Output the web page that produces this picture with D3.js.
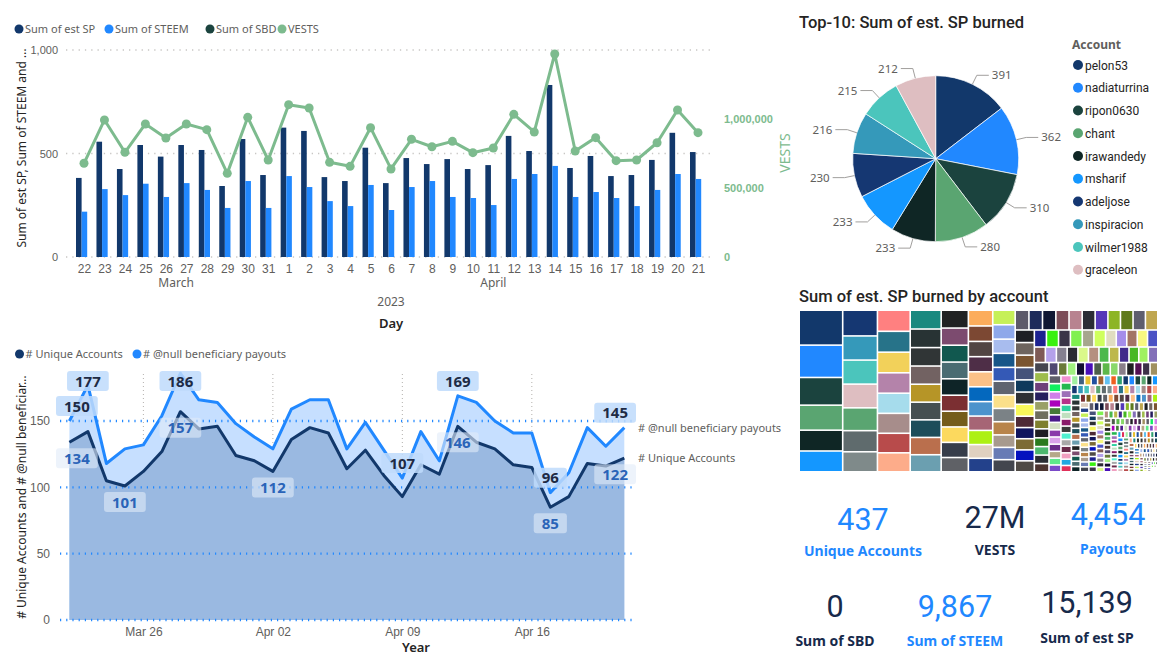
<!DOCTYPE html>
<html><head><meta charset="utf-8">
<script src="https://cdn.jsdelivr.net/npm/d3@7"></script>
<style>
body{margin:0;background:#fff;}
svg{display:block;font-family:"Segoe UI","Noto Sans",sans-serif;}
.din{font-family:Roboto,"Noto Sans",sans-serif;}
</style></head><body>
<svg id="c" width="1170" height="670"></svg>
<script>
// ---------------- DATA ----------------
const days = ["2023-03-22","2023-03-23","2023-03-24","2023-03-25","2023-03-26","2023-03-27","2023-03-28","2023-03-29","2023-03-30","2023-03-31",
"2023-04-01","2023-04-02","2023-04-03","2023-04-04","2023-04-05","2023-04-06","2023-04-07","2023-04-08","2023-04-09","2023-04-10",
"2023-04-11","2023-04-12","2023-04-13","2023-04-14","2023-04-15","2023-04-16","2023-04-17","2023-04-18","2023-04-19","2023-04-20","2023-04-21"];
const monthNames = ["March","April"];
const estSP = [382,557,425,541,485,541,517,343,570,396,625,609,386,367,528,357,478,449,473,425,444,585,512,831,430,488,391,396,469,600,507];
const steem = [219,328,299,354,290,357,324,237,367,237,391,338,270,246,348,227,338,367,290,285,251,377,401,440,290,314,285,246,324,401,377];
const sbd = [0,0,0,0,0,0,0,0,0,0,0,0,0,0,0,0,0,0,0,0,0,0,0,0,0,0,0,0,0,0,0];
const vests = [679000,993000,759000,964000,862000,964000,923000,606000,1012000,703000,1104000,1080000,686000,657000,937000,638000,853000,799000,838000,756000,790000,1034000,906000,1471000,768000,865000,698000,703000,828000,1065000,901000];
const barSeries = ["Sum of est SP","Sum of STEEM","Sum of SBD","VESTS"];
const leftTicks = [0,500,1000];
const rightTicks = [0,500000,1000000];

const pieAccounts = ["pelon53","nadiaturrina","ripon0630","chant","irawandedy","msharif","adeljose","inspiracion","wilmer1988","graceleon"];
const pieValues = [391,362,310,280,233,233,230,216,215,212];

// remaining accounts' est. SP (treemap), descending
const tmMid = [204,189,179,178,176,174,172,170,168,165,160,150,148,147,145,143,141,140,138,136,
125,120,118,117,115,112,110,108,106,100,99,97,96,95,94,93,91,90,89,
86,85,84,83,82,81,80,79,78,77,76,72,71,70,70,69,68,67,67,66,65];
const tmSmall = [64,64,63,63,62,62,61,61,60,60,59,56,55,55,54,54,53,53,52,52,51,51,
47,46,46,45,45,44,44,43,43,42,42,41,40,39,39,38,38,37,37,36,36,35,35,34,34,33,
32,32,31,31,30,30,29,29,28,28,27,27,27,26,26,26,25,25,24,24,23,23,23,22,22,22,21,21,21,20,20,20,19,19,19,19,
18,18,18,18,17,17,17,17,16,16,16,16,16,15,15,15,15,15,14,14,14,14,14,14,13];
const tmTail = [13,13,13,13,13,13,13,13,13,13,13,13,13,13,13,13,13,13,13,13,
12,12,12,12,12,12,12,12,12,12,12,12,12,12,12,12,12,12,12,12,
11,11,11,11,11,11,11,11,11,11,11,11,11,11,11,11,11,11,11,11,
10,10,10,10,10,10,10,10,10,10,10,10,10,10,10,10,10,10,10,10,
9,9,9,9,9,9,9,9,9,9,9,9,9,9,9,9,9,9,9,9,
8,8,8,8,8,8,8,8,8,8,8,8,8,8,8,8,8,8,8,8,
7,7,7,7,7,7,7,7,7,7,7,7,7,7,7,7,7,7,7,7,
6,6,6,6,6,6,6,6,6,6,6,6,6,6,6,6,6,6,6,6,6,6,6,6,6,
5,5,5,5,5,5,5,5,5,5,5,5,5,5,5,5,5,5,5,5,5,5,5,5,5,
4,4,4,4,4,4,4,4,4,4,4,4,4,4,4,4,4,4,4,4,4,4,4,4,4,
3,3,3,3,3,3,3,3,3,3,3,3,3,3,3,3,3,3,3,3,
2,2,2,2,2,2,2,2,2,2,2,2,2,2,2,
1,1,1,1,1,1,1,1];

const accounts = [134,142,105,101,112,127,157,144,146,124,120,112,136,145,141,114,128,109,93,117,110,146,134,129,117,115,85,93,118,116,122];
const payouts = [150,177,118,129,132,154,186,166,164,148,138,129,159,166,166,129,149,128,107,142,120,169,164,150,141,141,96,111,145,131,145];
const areaSeries = ["# Unique Accounts","# @null beneficiary payouts"];
const areaTicksY = [0,50,100,150];
const areaTicksX = ["2023-03-26","2023-04-02","2023-04-09","2023-04-16"];
const labelIdxPayouts = [0,1,6,18,21,26,30];
const labelIdxAccounts = [0,3,6,11,21,26,30];

const kpiValues = ["437","27M","4,454","0","9,867","15,139"];
const kpiLabels = ["Unique Accounts","VESTS","Payouts","Sum of SBD","Sum of STEEM","Sum of est SP"];

// ---------------- STYLE ----------------
const C_SP = "#12386B", C_ST = "#2188FF", C_SBD = "#1B433E", C_V = "#7DBB8E";
const GRAY = "#605E5C", DARK = "#252423";
const pieColors = ["#12386B","#2188FF","#1B433E","#5AA571","#0F2625","#1497FF","#153772","#3599BA","#4BC5BC","#DEBEC1"];
const tmColors = pieColors.concat(["#5AA571","#5F6B6D","#7F8A8A",
"#FF8080","#277389","#F2D15A","#B483AA","#A6DCEC","#A78D8B","#B84B4B","#FDAC8A",
"#19897F","#283334","#303536","#726262","#B69527","#464F51","#1D4D5A","#BA6F4D","#6B9FB0",
"#202223","#7C4B6F","#11584F","#4A6C72","#0E2427","#7B2F32","#755C1B","#FCD95E","#363D4A",
"#5F6166","#FCAC5B","#7C4833","#524543","#4E2E47","#FBC087","#0468BE","#4C93CC","#A66575","#ADF014",
"#DFD0C0","#23418B","#C6F058","#8EA8EA","#A8BCEE","#175688","#3459B6","#5F6470","#FBE08A","#7B8286","#B8844B",
"#A79A8E","#687BB5","#43464E","#5D5A6A","#1D2B5A","#0F1733","#7C4C58","#B88390","#2A2C35","#5538B8",
"#8DB526","#5F7A1C","#5E5E6E","#BFA64F","#1E1F24","#6E645E","#7B5530","#45527A","#0F3A5C","#2E3034","#F8F85A",
"#4E2A36","#10155E","#7C6B35","#0512BE","#4F4A45","#1C2190","#39F010","#3A3548","#80F050","#A6A68E","#CFFF5E",
"#E0DDC0","#A58DEA","#A37565","#F8F880","#4B52C4","#7E5A55","#B4A1EA","#858090","#2B2A33","#DAF88A","#B59080",
"#4CB84C","#BDB84B","#3F2A8A","#48B824","#A0F060","#8370B8","#45454F","#9EBC4C","#6E3F7A","#261E5E","#9AA066",
"#6E6E5E","#7F7F2E","#1E1E23","#2A7A1E","#4CB86E","#2B2D33","#4D3530","#4F4872","#6A7A38","#A0F080","#120E30",
"#4A0FB8","#4D5F4A","#5DB84A","#8AD86A","#8A7F8A","#1E1E22","#520F52","#3C3048","#A09060","#5E5E6A","#10F060",
"#D080E8","#AA00BB","#457A38","#4A1A8A","#D5E0C5","#8A3AAA","#DAA0EA","#6B2A8A","#B5A888","#5EE88A","#7A4AC8",
"#F090D0","#24B850","#9E70B8","#B8308A","#30D0A0","#C0E0C0","#8A1A6A","#3A3A3A","#50F0D0","#A8A8A8","#6A2A4A",
"#F0A0C0","#20A8E0","#E0305A","#A0F0A0","#406080","#E8C030","#2050A0","#A06030","#60C0F0","#F06020","#30A070"]);

const svg = d3.select("#c");
const parse = d3.timeParse("%Y-%m-%d");

// ================= BAR + LINE CHART =================
const xB = d3.scalePoint().domain(days).range([84,698]);
const xIn = d3.scaleBand().domain(["sp","steem"]).range([-8,3.2]);
const yL = d3.scaleLinear().domain([0,1000]).range([257,50]);
const yR = d3.scaleLinear().domain([0,1500000]).range([257,50]);

// legend
const lg = svg.append("g").attr("font-size",11).attr("fill",GRAY);
const legX = [19,109,210,282], legC = [C_SP,C_ST,C_SBD,C_V];
barSeries.forEach((s,i)=>{
  lg.append("circle").attr("cx",legX[i]).attr("cy",29).attr("r",4.5).attr("fill",legC[i]);
  lg.append("text").attr("x",legX[i]+6).attr("y",33).text(s);
});

// grid
svg.append("g").selectAll("line").data(leftTicks).join("line")
  .attr("x1",66).attr("x2",712).attr("y1",d=>yL(d)).attr("y2",d=>yL(d))
  .attr("stroke","#C8C6C4").attr("stroke-width",1.3).attr("stroke-dasharray","1.3,5");

// bars
const barData = days.map((d,i)=>({d,sp:estSP[i],st:steem[i],sb:sbd[i],v:vests[i]}));
svg.append("g").selectAll("rect").data(barData).join("rect")
  .attr("x",d=>xB(d.d)+xIn("sp")).attr("width",xIn.bandwidth())
  .attr("y",d=>yL(d.sp)).attr("height",d=>yL(0)-yL(d.sp)).attr("fill",C_SP);
svg.append("g").selectAll("rect").data(barData).join("rect")
  .attr("x",d=>xB(d.d)+xIn("steem")).attr("width",xIn.bandwidth())
  .attr("y",d=>yL(d.st)).attr("height",d=>yL(0)-yL(d.st)).attr("fill",C_ST);

// vests line
svg.append("path").datum(barData)
  .attr("d",d3.line().x(d=>xB(d.d)).y(d=>yR(d.v)))
  .attr("fill","none").attr("stroke",C_V).attr("stroke-width",3).attr("stroke-linejoin","round");
svg.append("g").selectAll("circle").data(barData).join("circle")
  .attr("cx",d=>xB(d.d)).attr("cy",d=>yR(d.v)).attr("r",4.5).attr("fill",C_V);

// axes
function styleAxis(g){ g.select(".domain").remove(); g.selectAll(".tick line").remove(); }
svg.append("g").attr("transform","translate(62,0)")
  .call(d3.axisLeft(yL).tickValues(leftTicks).tickFormat(d3.format(",")).tickSize(0).tickPadding(4))
  .call(styleAxis).call(g=>g.selectAll("text").attr("fill",GRAY).attr("font-size",11).attr("font-family",null));
svg.append("g").attr("transform","translate(720,0)")
  .call(d3.axisRight(yR).tickValues(rightTicks).tickFormat(d3.format(",")).tickSize(0).tickPadding(4))
  .call(styleAxis).call(g=>g.selectAll("text").attr("fill",C_V).attr("font-size",11).attr("font-weight",600).attr("font-family",null));
svg.append("g").attr("transform","translate(0,257)")
  .call(d3.axisBottom(xB).tickFormat(d=>+d.slice(8)).tickSize(0).tickPadding(7))
  .call(styleAxis).call(g=>g.selectAll("text").attr("fill",GRAY).attr("font-size",12).attr("font-family",null));
// month labels
monthNames.forEach((m,mi)=>{
  const ds = days.filter(d=>+d.slice(5,7)===mi+3);
  const cx = (xB(ds[0])+xB(ds[ds.length-1]))/2;
  svg.append("text").attr("x",cx).attr("y",287).attr("text-anchor","middle").attr("font-size",12).attr("fill",GRAY).text(m);
});
svg.append("text").attr("x",(xB(days[0])+xB(days[30]))/2).attr("y",306).attr("text-anchor","middle").attr("font-size",12).attr("fill",GRAY).text("2023");
svg.append("text").attr("x",(xB(days[0])+xB(days[30]))/2).attr("y",328).attr("text-anchor","middle").attr("font-size",13).attr("font-weight",600).attr("fill",DARK).text("Day");
svg.append("text").attr("transform","translate(26,148) rotate(-90)").attr("text-anchor","middle").attr("font-size",12).attr("fill",DARK).text("Sum of est SP, Sum of STEEM and ...");
svg.append("text").attr("transform","translate(790,153) rotate(-90)").attr("text-anchor","middle").attr("font-size",14).attr("fill",C_V).text("VESTS");

// ================= PIE =================
const pcx = 935.7, pcy = 158.7, pr = 83;
svg.append("text").attr("class","din").attr("x",799).attr("y",28).attr("font-size",16.5).attr("font-weight",500).attr("fill",DARK).text("Top-10: Sum of est. SP burned");
const pie = d3.pie().sort(null).value(d=>d.v);
const pieData = pie(pieAccounts.map((a,i)=>({a,v:pieValues[i],c:pieColors[i]})));
const arc = d3.arc().innerRadius(0).outerRadius(pr);
const pg = svg.append("g").attr("transform",`translate(${pcx},${pcy})`);
pg.selectAll("path").data(pieData).join("path").attr("d",arc).attr("fill",d=>d.data.c).attr("stroke","#fff").attr("stroke-width",0.7);
pieData.forEach(d=>{
  const a = (d.startAngle+d.endAngle)/2;
  const sx = Math.sin(a), sy = -Math.cos(a);
  const p1 = [pr*sx, pr*sy], p2 = [(pr+10)*sx,(pr+10)*sy];
  const dir = sx>=0?1:-1;
  const p3 = [p2[0]+12*dir, p2[1]];
  pg.append("polyline").attr("points",[p1,p2,p3].map(p=>p.join(",")).join(" "))
    .attr("fill","none").attr("stroke","#A19F9D").attr("stroke-width",1);
  pg.append("text").attr("x",p3[0]+3*dir).attr("y",p3[1]+4).attr("text-anchor",dir>0?"start":"end")
    .attr("font-size",11.5).attr("fill",GRAY).text(d.data.v);
});
// legend
svg.append("text").attr("x",1072).attr("y",49).attr("font-size",12).attr("font-weight",700).attr("fill",GRAY).text("Account");
pieAccounts.forEach((a,i)=>{
  const y = 65 + i*22.75;
  svg.append("circle").attr("cx",1078).attr("cy",y).attr("r",5).attr("fill",pieColors[i]);
  svg.append("text").attr("class","din").attr("x",1085).attr("y",y+4.5).attr("font-size",12).attr("fill",DARK).text(a);
});

// ================= TREEMAP =================
svg.append("text").attr("class","din").attr("x",799).attr("y",302).attr("font-size",16.5).attr("font-weight",500).attr("fill",DARK).text("Sum of est. SP burned by account");
const tmVals = pieValues.concat(tmMid, tmSmall, tmTail);
const root = d3.hierarchy({children: tmVals.map((v,i)=>({v,i}))}).sum(d=>d.v||0).sort((a,b)=>b.value-a.value || a.data.i-b.data.i);
d3.treemap().size([357,160]).paddingInner(1.6).tile(d3.treemapSquarify.ratio(1.6))(root);
svg.append("g").attr("transform","translate(800,311)").selectAll("rect").data(root.leaves()).join("rect")
  .attr("x",d=>d.x0).attr("y",d=>d.y0).attr("width",d=>Math.max(0,d.x1-d.x0)).attr("height",d=>Math.max(0,d.y1-d.y0))
  .attr("fill",d=>tmColors[d.data.i % tmColors.length]);

// ================= AREA CHART =================
const xA = d3.scaleTime().domain([parse(days[0]),parse(days[30])]).range([69.4,624.3]);
const yA = d3.scaleLinear().domain([0,150]).range([620,421]);
const al = svg.append("g").attr("font-size",11).attr("fill",GRAY);
[[19.5,C_SP],[137,C_ST]].forEach((p,i)=>{
  al.append("circle").attr("cx",p[0]).attr("cy",354).attr("r",4.5).attr("fill",p[1]);
  al.append("text").attr("x",p[0]+6).attr("y",358).text(areaSeries[i]);
});
const aData = days.map((d,i)=>({t:parse(d),a:accounts[i],p:payouts[i]}));
// vertical grid
svg.append("g").selectAll("line").data(areaTicksX).join("line")
  .attr("x1",d=>xA(parse(d))).attr("x2",d=>xA(parse(d))).attr("y1",374).attr("y2",620)
  .attr("stroke","#B3B0AD").attr("stroke-dasharray","1,3");
svg.append("path").datum(aData).attr("d",d3.area().x(d=>xA(d.t)).y0(yA(0)).y1(d=>yA(d.p))).attr("fill","#C6DFFF");
svg.append("path").datum(aData).attr("d",d3.area().x(d=>xA(d.t)).y0(yA(0)).y1(d=>yA(d.a))).attr("fill","#9AB9E1");
// horizontal grid
svg.append("g").selectAll("line").data(areaTicksY).join("line")
  .attr("x1",60).attr("x2",634).attr("y1",d=>yA(d)).attr("y2",d=>yA(d))
  .attr("stroke","#2188FF").attr("stroke-width",2.4).attr("stroke-dasharray","1.2,5");
svg.append("path").datum(aData).attr("d",d3.line().x(d=>xA(d.t)).y(d=>yA(d.p))).attr("fill","none").attr("stroke",C_ST).attr("stroke-width",3).attr("stroke-linejoin","round");
svg.append("path").datum(aData).attr("d",d3.line().x(d=>xA(d.t)).y(d=>yA(d.a))).attr("fill","none").attr("stroke",C_SP).attr("stroke-width",3).attr("stroke-linejoin","round");
svg.append("g").attr("transform","translate(52,0)")
  .call(d3.axisLeft(yA).tickValues(areaTicksY).tickSize(0).tickPadding(2))
  .call(styleAxis).call(g=>g.selectAll("text").attr("fill",GRAY).attr("font-size",12).attr("font-family",null));
svg.append("g").attr("transform","translate(0,620)")
  .call(d3.axisBottom(xA).tickValues(areaTicksX.map(parse)).tickFormat(d3.timeFormat("%b %d")).tickSize(0).tickPadding(7))
  .call(styleAxis).call(g=>g.selectAll("text").attr("fill",GRAY).attr("font-size",12).attr("font-family",null));
svg.append("text").attr("x",416).attr("y",652).attr("text-anchor","middle").attr("font-size",13).attr("font-weight",600).attr("fill",DARK).text("Year");
svg.append("text").attr("transform","translate(26,497) rotate(-90)").attr("text-anchor","middle").attr("font-size",12).attr("fill",DARK).text("# Unique Accounts and # @null beneficiar...");
svg.append("text").attr("x",638).attr("y",yA(payouts[30])+4).attr("font-size",11).attr("fill",GRAY).text("# @null beneficiary payouts");
svg.append("text").attr("x",638).attr("y",yA(accounts[30])+4).attr("font-size",11).attr("fill",GRAY).text("# Unique Accounts");
// data labels
function dataLabel(i, val, above, txtColor, boxFill){
  const cx0 = xA(parse(days[i])), py = yA(val);
  const g = svg.append("g");
  const t = g.append("text").attr("font-size",15).attr("font-weight",700).attr("fill",txtColor).attr("text-anchor","middle").text(val);
  const tw = t.node().getComputedTextLength();
  const w = tw+16, h = 20;
  let left = Math.max(56, cx0-w/2); if (left+w>636) left = 636-w;
  let top = above ? Math.max(371, py-5-h) : py+6;
  g.insert("rect","text").attr("x",left).attr("y",top).attr("width",w).attr("height",h).attr("rx",3).attr("fill",boxFill);
  t.attr("x",left+w/2).attr("y",top+15.5);
}
labelIdxPayouts.forEach(i=>dataLabel(i,payouts[i],true,"#1E2B45","rgba(190,218,252,0.85)"));
labelIdxAccounts.forEach(i=>dataLabel(i,accounts[i],false,"#2A64B8","rgba(225,235,248,0.6)"));

// ================= KPI CARDS =================
const kpiPos = [[863,530,556],[995,528,555],[1108,525,554],[835,617,646],[955,617,646],[1087,613,643]];
const kpiCol = ["#1F88FF","#172A4B","#1F88FF","#172A4B","#1F88FF","#172A4B"];
kpiValues.forEach((v,i)=>{
  svg.append("text").attr("class","din").attr("x",kpiPos[i][0]).attr("y",kpiPos[i][1]).attr("text-anchor","middle").attr("font-size",30.5).attr("fill",kpiCol[i]).text(v);
  svg.append("text").attr("x",kpiPos[i][0]).attr("y",kpiPos[i][2]).attr("text-anchor","middle").attr("font-size",14).attr("font-weight",700).attr("fill",kpiCol[i]).text(kpiLabels[i]);
});
</script>
</body></html>
